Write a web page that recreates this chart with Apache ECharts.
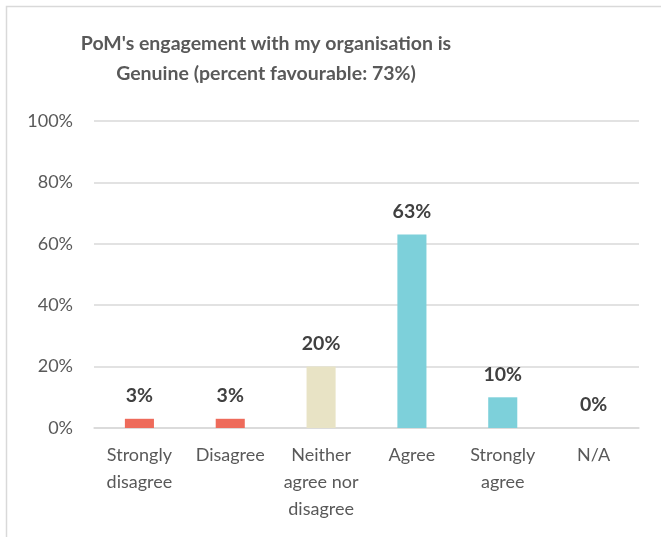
<!DOCTYPE html>
<html>
<head>
<meta charset="utf-8">
<script src="https://cdn.jsdelivr.net/npm/echarts@6/dist/echarts.min.js"></script>
<style>
  html, body { margin: 0; padding: 0; background: #fff; }
  #chart { width: 661px; height: 537px; }
</style>
</head>
<body>
<div id="chart"></div>
<script>
// Response categories and their share of respondents (%)
const categories = ['Strongly\ndisagree', 'Disagree', 'Neither\nagree nor\ndisagree', 'Agree', 'Strongly\nagree', 'N/A'];
const values = [3, 3, 20, 63, 10, 0];
const barColors = ['#EE6B5B', '#EE6B5B', '#E8E3C5', '#7DD0DA', '#7DD0DA', '#7DD0DA'];
const yTicks = [0, 20, 40, 60, 80, 100];

const FONT = 'Lato, "Noto Sans", sans-serif';

const chart = echarts.init(document.getElementById('chart'), null, { renderer: 'canvas' });

chart.setOption({
  animation: false,
  backgroundColor: '#ffffff',
  textStyle: { fontFamily: FONT },
  graphic: [
    {
      type: 'rect',
      shape: { x: 6.5, y: 6.5, width: 720, height: 600 },
      style: { fill: 'none', stroke: '#D9D9D9', lineWidth: 1.5 },
      silent: true
    },
    {
      type: 'text',
      x: 266,
      y: 59,
      style: {
        text: "PoM's engagement with my organisation is\nGenuine (percent favourable: 73%)",
        fontFamily: FONT,
        fontSize: 19.5,
        fontWeight: 'bold',
        fill: '#595959',
        align: 'center',
        verticalAlign: 'middle',
        lineHeight: 30
      }
    }
  ],
  grid: { left: 94, right: 22, top: 121, bottom: 109, containLabel: false },
  xAxis: {
    type: 'category',
    data: categories,
    axisLine: { show: true, lineStyle: { color: '#D9D9D9', width: 1.5 } },
    axisTick: { show: false },
    axisLabel: {
      color: '#595959',
      fontFamily: FONT,
      fontSize: 18,
      lineHeight: 27,
      margin: 14,
      interval: 0
    }
  },
  yAxis: {
    type: 'value',
    min: yTicks[0],
    max: yTicks[yTicks.length - 1],
    interval: 20,
    axisLine: { show: false },
    axisTick: { show: false },
    splitLine: { lineStyle: { color: '#D9D9D9', width: 1.5 } },
    axisLabel: {
      color: '#595959',
      fontFamily: FONT,
      fontSize: 18,
      margin: 21,
      formatter: v => v + '%'
    }
  },
  series: [{
    type: 'bar',
    data: values.map((v, i) => ({ value: v, itemStyle: { color: barColors[i] } })),
    barWidth: '32%',
    label: {
      show: true,
      position: 'top',
      distance: 13,
      color: '#404040',
      fontFamily: FONT,
      fontSize: 19.5,
      fontWeight: 'bold',
      formatter: p => p.value + '%'
    }
  }]
});
</script>
</body>
</html>
